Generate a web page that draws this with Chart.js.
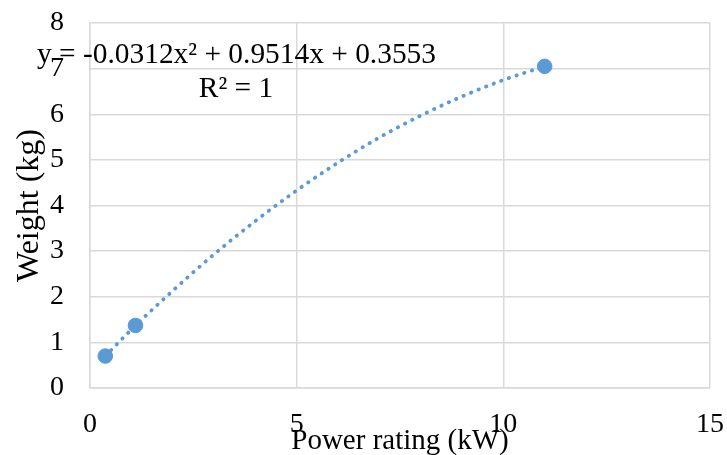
<!DOCTYPE html>
<html>
<head>
<meta charset="utf-8">
<script src="https://cdn.jsdelivr.net/npm/chart.js@4/dist/chart.umd.min.js"></script>
<style>
  html, body { margin: 0; padding: 0; background: #ffffff; }
  #wrap { width: 727px; height: 455px; position: relative; }
</style>
</head>
<body>
<div id="wrap"><canvas id="c" width="727" height="455"></canvas></div>
<script>
// Measured points
const powerKW = [0.37, 1.1, 11];
const weightKg = [0.70, 1.37, 7.05];

// Polynomial trendline
const trendX = [0.37, 1, 2, 3, 4, 5, 6, 7, 8, 9, 10, 11];
const trendY = [0.70, 1.28, 2.13, 2.93, 3.66, 4.33, 4.94, 5.49, 5.97, 6.39, 6.75, 7.05];

// Axis ticks
const xTicks = [0, 5, 10, 15];
const yTicks = [0, 1, 2, 3, 4, 5, 6, 7, 8];

// Texts
const xTitle = 'Power rating (kW)';
const yTitle = 'Weight (kg)';
const equationText = 'y = -0.0312x\u00B2 + 0.9514x + 0.3553';
const r2Text = 'R\u00B2 = 1';

const FONT = '"Liberation Serif", "Times New Roman", serif';
const BLUE = '#5B9BD5';
const GRID = '#D9D9D9';

const annotationPlugin = {
  id: 'trendLabel',
  afterDraw(chart) {
    const ctx = chart.ctx;
    ctx.save();
    ctx.fillStyle = '#000000';
    ctx.font = '29.4px ' + FONT;
    ctx.textBaseline = 'alphabetic';
    ctx.textAlign = 'left';
    ctx.fillText(equationText, 37, 63);
    ctx.textAlign = 'center';
    ctx.fillText(r2Text, 236, 97);
    ctx.restore();
  }
};

new Chart(document.getElementById('c'), {
  type: 'scatter',
  data: {
    datasets: [
      {
        label: 'Weight',
        data: powerKW.map((x, i) => ({ x: x, y: weightKg[i] })),
        backgroundColor: BLUE,
        borderColor: BLUE,
        pointRadius: 7.3,
        pointHoverRadius: 7.3,
        showLine: false,
        order: 2
      },
      {
        label: 'Trend',
        data: trendX.map((x, i) => ({ x: x, y: trendY[i] })),
        showLine: true,
        borderColor: BLUE,
        borderWidth: 3.8,
        borderDash: [0.4, 7.7],
        borderCapStyle: 'round',
        pointRadius: 0,
        cubicInterpolationMode: 'monotone',
        fill: false,
        order: 1
      }
    ]
  },
  options: {
    responsive: false,
    animation: false,
    events: [],
    layout: { padding: { top: 23, right: 17, bottom: 0, left: 0 } },
    plugins: {
      legend: { display: false },
      tooltip: { enabled: false }
    },
    scales: {
      x: {
        type: 'linear',
        min: 0, max: 15,
        afterBuildTicks(scale) { scale.ticks = xTicks.map(v => ({ value: v })); },
        afterFit(scale) { scale.height = 67; scale.paddingLeft = 0; scale.paddingRight = 0; },
        grid: { color: GRID, lineWidth: 1.5, drawTicks: false },
        border: { color: GRID, width: 1.5 },
        ticks: {
          color: '#000000',
          padding: 20,
          font: { family: FONT, size: 28 },
          maxRotation: 0,
          autoSkip: false
        },
        title: {
          display: true,
          text: xTitle,
          color: '#000000',
          font: { family: FONT, size: 29 },
          padding: { top: 0, bottom: -4 }
        }
      },
      y: {
        type: 'linear',
        min: 0, max: 8,
        afterBuildTicks(scale) { scale.ticks = yTicks.map(v => ({ value: v })); },
        afterFit(scale) { scale.width = 90; scale.paddingTop = 0; scale.paddingBottom = 0; },
        grid: { color: GRID, lineWidth: 1.5, drawTicks: false },
        border: { color: GRID, width: 1.5 },
        ticks: {
          color: '#000000',
          padding: 26,
          font: { family: FONT, size: 28 },
          autoSkip: false
        },
        title: {
          display: true,
          text: yTitle,
          color: '#000000',
          font: { family: FONT, size: 32 },
          padding: { top: 10, bottom: 0 }
        }
      }
    }
  },
  plugins: [annotationPlugin]
});
</script>
</body>
</html>
